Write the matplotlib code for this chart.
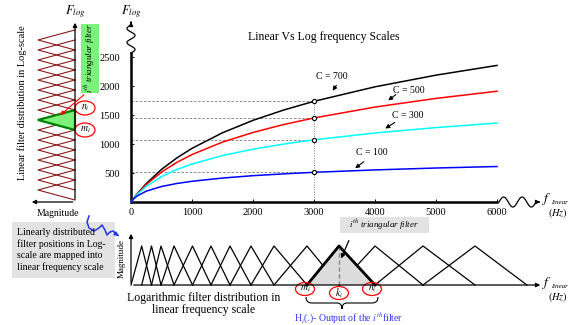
import matplotlib
matplotlib.use("Agg")
import matplotlib.pyplot as plt
import numpy as np
from matplotlib.patches import Ellipse, Rectangle, PathPatch
from matplotlib.path import Path

plt.rcParams['font.family'] = ['Liberation Serif', 'DejaVu Serif']
plt.rcParams['mathtext.fontset'] = 'stix'

# values
freq = [0, 50, 100, 250, 500, 750, 1000, 1500, 2000, 2500, 3000, 4000, 5000, 6000]
f_c700 = [0, 72, 139, 318, 562, 759, 925, 1194, 1408, 1585, 1736, 1986, 2187, 2355]
f_c500 = [0, 71, 136, 302, 516, 682, 818, 1033, 1199, 1335, 1449, 1637, 1786, 1910]
f_c300 = [0, 69, 129, 271, 438, 560, 655, 801, 910, 998, 1072, 1190, 1283, 1361]
f_c100 = [0, 60, 103, 187, 267, 319, 357, 413, 454, 485, 512, 553, 586, 612]
curve_names = ["C = 700", "C = 500", "C = 300", "C = 100"]
curve_colors = ["black", "red", "cyan", "blue"]
f_mark = 3000

# filter edges/centres: log-scale (left) and linear scale (bottom)
log_pts = [34, 207, 379, 552, 724, 897, 1069, 1241, 1414, 1586, 1759, 1931,
           2103, 2276, 2448, 2621, 2793, 2966]
log_sel = 8
lin_pts = [0, 175, 336, 492, 705, 1008, 1311, 1623, 1967, 2344, 2885, 3410,
           4000, 4787, 5639, 6490]
lin_sel = 11

W, H = 576, 325
fig = plt.figure(figsize=(5.76, 3.25), dpi=100)


def px_axes(x0, y0, x1, y1):
    return fig.add_axes([x0 / W, 1 - y1 / H, (x1 - x0) / W, (y1 - y0) / H])


# ---- main chart
ax = px_axes(131, 53, 497, 202)
ax.set_xlim(0, 6000)
ax.set_ylim(0, 2569)
series = [f_c700, f_c500, f_c300, f_c100]
im = freq.index(f_mark)
for vals, col in zip(series, curve_colors):
    ax.plot(freq, vals, color=col, lw=1.1, clip_on=False, zorder=3)
    ax.plot([0, f_mark], [vals[im], vals[im]], color='#777777', lw=0.6,
            dashes=(3, 2), zorder=2)
    ax.plot(f_mark, vals[im], 'o', ms=3, mfc='white', mec='black', mew=0.8,
            zorder=4)
ax.plot([f_mark, f_mark], [0, f_c700[im]], color='#777777', lw=0.7,
        ls=(0, (1, 1.5)), zorder=2)
for s in ['top', 'right']:
    ax.spines[s].set_visible(False)
for s in ['left', 'bottom']:
    ax.spines[s].set_linewidth(1.8)
ax.set_xticks(range(0, 7000, 1000))
ax.set_yticks([500, 1000, 1500, 2000, 2500])
ax.tick_params(direction='in', length=2, width=0.7, labelsize=7.5)
ax.tick_params(axis='y', pad=8)
ax.tick_params(axis='x', pad=4)
ax.patch.set_alpha(0)

# label position, arrow start, arrow tip (data units)
lab_pos = [(3295, 2172, 3393, 2052, 3279, 1879),
           (4557, 1931, 4377, 1879, 4180, 1724),
           (4541, 1500, 4361, 1397, 4131, 1241),
           (3951, 845, 3852, 724, 3639, 552)]
for name, (tx, ty, sx, sy, hx, hy) in zip(curve_names, lab_pos):
    ax.text(tx, ty, name, fontsize=7, ha='center', va='center')
    ax.annotate('', xy=(hx, hy), xytext=(sx, sy),
                arrowprops=dict(arrowstyle='-|>', color='black', lw=0.8,
                                mutation_scale=6))

# ---- left panel (log scale filters)
lx = px_axes(38, 22, 75, 202)
lx.set_xlim(1, 0)
lx.set_ylim(0, 3103)
lx.axis('off')
for k in range(1, len(log_pts) - 1):
    lx.plot([0, 1, 0], log_pts[k - 1:k + 2], color='#8b1a1a', lw=0.8,
            clip_on=False)
lx.fill([0, 1, 0], log_pts[log_sel - 1:log_sel + 2], facecolor='#7cf27c',
        edgecolor='#008000', lw=1.6, zorder=3, clip_on=False)

# ---- bottom panel (linear scale filters)
bx = px_axes(131, 246, 540, 285)
bx.set_xlim(0, 6705)
bx.set_ylim(0, 1)
bx.axis('off')
for k in range(1, len(lin_pts) - 1):
    bx.plot(lin_pts[k - 1:k + 2], [0, 1, 0], color='black', lw=0.9,
            clip_on=False)
sel = lin_pts[lin_sel - 1:lin_sel + 2]
bx.fill(sel, [0, 1, 0], facecolor='#dcdcdc', edgecolor='none', zorder=2)
bx.plot(sel, [0, 1, 0], color='black', lw=2, zorder=3, clip_on=False)
bx.plot([sel[1], sel[1]], [0, 0.95], color='#888888', lw=1, dashes=(3, 2),
        zorder=3)

# ---- overlay for the drawing decorations
ov = fig.add_axes([0, 0, 1, 1])
ov.set_xlim(0, W)
ov.set_ylim(H, 0)
ov.axis('off')
ov.patch.set_alpha(0)
ov.set_zorder(10)

arr = dict(arrowstyle='-|>', color='black', lw=0.9, mutation_scale=6)


def wave(x0, y0, x1, y1, amp, cycles, color='black', lw=0.9):
    t = np.linspace(0, 1, 80)
    x = x0 + (x1 - x0) * t
    y = y0 + (y1 - y0) * t
    off = amp * np.sin(2 * np.pi * cycles * t)
    if x0 == x1:
        x = x + off
    else:
        y = y + off
    ov.plot(x, y, color=color, lw=lw)


def f_linear(x, y):
    ov.text(x, y, r'$f$', fontsize=10, ha='center', va='center')
    ov.text(x + 14, y + 3, 'linear', fontsize=5, style='italic',
            ha='center', va='center')
    ov.text(x + 12, y + 14, r'$(Hz)$', fontsize=7.5, ha='center', va='center')


# main axes breaks + arrows
wave(131, 53, 131, 25, 4, 2)
ov.annotate('', xy=(131, 19), xytext=(131, 25), arrowprops=arr)
wave(499, 202, 536, 202, -5, 2)
ov.annotate('', xy=(543, 202), xytext=(536, 202), arrowprops=arr)
ov.text(131, 12, r'$F_{log}$', fontsize=9, ha='center', va='center')
f_linear(546, 199)
ov.text(324, 37, 'Linear Vs Log frequency Scales', fontsize=8.5,
        ha='center', va='center')

# left panel axes + labels
ov.annotate('', xy=(75, 20), xytext=(75, 202), arrowprops=arr)
ov.annotate('', xy=(29, 202), xytext=(75.5, 202), arrowprops=arr)
ov.text(75, 12, r'$F_{log}$', fontsize=9, ha='center', va='center')
ov.text(58, 213, 'Magnitude', fontsize=7, ha='center', va='center')
ov.text(22, 103, 'Linear filter distribution in Log-scale', fontsize=7.5,
        rotation=90, ha='center', va='center')
ov.add_patch(Rectangle((81, 24), 18, 69, facecolor='#7cf27c', edgecolor='none'))
ov.text(90, 58, r'$i^{th}$ triangular filter', fontsize=6.5, style='italic',
        rotation=90, ha='center', va='center')
ov.annotate('', xy=(58, 117), xytext=(86, 93),
            arrowprops=dict(arrowstyle='-|>', color='red', lw=0.8,
                            mutation_scale=6))
for cx, cy, lab in [(85, 108, r'$n_i$'), (85, 130, r'$m_i$')]:
    ov.add_patch(Ellipse((cx, cy), 20, 14, facecolor='white',
                         edgecolor='red', lw=0.9))
    ov.text(cx, cy, lab, fontsize=7, ha='center', va='center')

# note box + blue squiggle
ov.add_patch(Rectangle((12, 222), 103, 56, facecolor='#e3e3e3', edgecolor='none'))
ov.text(17, 250, 'Linearly distributed\nfilter positions in Log-\n'
        'scale are mapped into\nlinear frequency scale', fontsize=7,
        ha='left', va='center', linespacing=1.25)
sq_x = [89, 87, 89, 94, 99, 102, 105, 107, 110, 113, 116]
sq_y = [216, 222, 228, 231, 228, 225, 230, 235, 232, 231, 234]
ov.plot(sq_x, sq_y, color='#2233ee', lw=1.1)
ov.annotate('', xy=(119, 236), xytext=(116, 234),
            arrowprops=dict(arrowstyle='-|>', color='#2233ee', lw=1,
                            mutation_scale=6))

# bottom panel axes + labels
ov.annotate('', xy=(131, 231), xytext=(131, 285.5), arrowprops=arr)
ov.annotate('', xy=(543, 285), xytext=(131, 285), arrowprops=arr)
ov.text(122, 259, 'Magnitude', fontsize=6.5, rotation=90, ha='center',
        va='center')
f_linear(546, 283)
ov.text(204, 304, 'Logarithmic filter distribution in\nlinear frequency scale',
        fontsize=8.5, ha='center', va='center', linespacing=1.1)
ov.add_patch(Rectangle((340, 217), 89, 16, facecolor='#e3e3e3', edgecolor='none'))
ov.text(384, 225, r'$i^{th}$ triangular filter', fontsize=6.5, style='italic',
        ha='center', va='center')
ov.annotate('', xy=(340, 261), xytext=(350, 238), arrowprops=arr)
for cx, cy, lab in [(305, 289, r'$m_i$'), (339, 293, r'$k_i$'),
                    (372, 289, r'$n_i$')]:
    ov.add_patch(Ellipse((cx, cy), 19, 13, facecolor='none',
                         edgecolor='red', lw=0.9))
    ov.text(cx, cy, lab, fontsize=7, ha='center', va='center')
brace = Path([(306, 297), (306, 303), (312, 303), (337, 303), (342, 303),
              (342, 309), (342, 303), (347, 303), (372, 303), (378, 303),
              (378, 297)],
             [Path.MOVETO, Path.CURVE3, Path.CURVE3, Path.LINETO, Path.CURVE3,
              Path.CURVE3, Path.CURVE3, Path.CURVE3, Path.LINETO, Path.CURVE3,
              Path.CURVE3])
ov.add_patch(PathPatch(brace, facecolor='none', edgecolor='black', lw=0.8))
ov.text(349, 318, r'H$_i$(.)- Output of the $i^{th}$filter', fontsize=7,
        color='#3333ff', ha='center', va='center')

fig.savefig("out.png", dpi=100)
